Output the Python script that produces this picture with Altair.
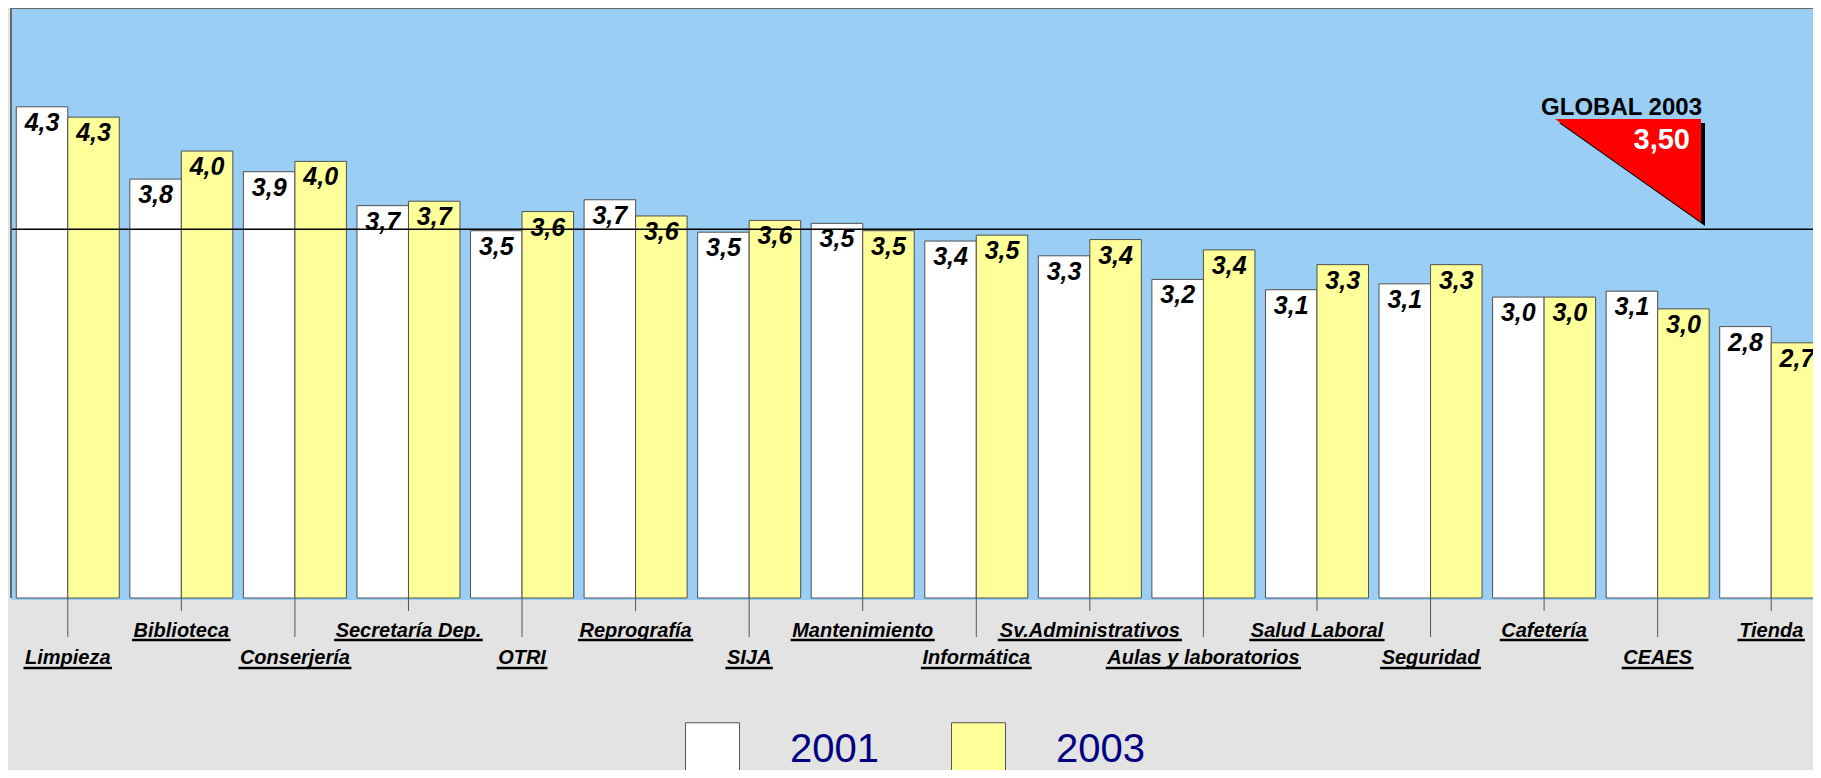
import altair as alt
import pandas as pd

# ---------------- data ----------------
cats = ["Limpieza", "Biblioteca", "Conserjería", "Secretaría Dep.", "OTRI",
        "Reprografía", "SIJA", "Mantenimiento", "Informática", "Sv.Administrativos",
        "Aulas y laboratorios", "Salud Laboral", "Seguridad", "Cafetería", "CEAES", "Tienda"]
v2001 = [4.33, 3.84, 3.89, 3.66, 3.49, 3.70, 3.48, 3.54, 3.42, 3.32, 3.16, 3.09, 3.13, 3.04, 3.08, 2.84]
v2003 = [4.26, 4.03, 3.96, 3.69, 3.62, 3.59, 3.56, 3.49, 3.46, 3.43, 3.36, 3.26, 3.26, 3.04, 2.96, 2.73]
years = ["2001", "2003"]
global_2003 = 3.50
global_title = "GLOBAL 2003"

# ---------------- style ----------------
FONT = "Liberation Sans"
BLUE = "#9ACEF4"
GREY = "#E3E3E3"
YELLOW = "#FFFF99"
PLOT_W, PLOT_H = 1802, 592
LABEL_SIZE = 20

# Arial/Liberation Sans Bold advance widths (1/1000 em) used to size underlines
BOLD_W = {" ": 278, ".": 278, "A": 722, "B": 722, "C": 722, "D": 722, "E": 667, "I": 278,
          "J": 556, "L": 611, "M": 833, "O": 778, "R": 722, "S": 667, "T": 611,
          "a": 556, "b": 611, "c": 556, "d": 611, "e": 556, "f": 333, "g": 611, "i": 278,
          "j": 278, "l": 278, "m": 889, "n": 611, "o": 611, "p": 611, "r": 389, "s": 556,
          "t": 333, "u": 611, "v": 556, "y": 556, "z": 500, "á": 556, "í": 278}


def text_width(s):
    return sum(BOLD_W.get(ch, 556) for ch in s) * LABEL_SIZE / 1000.0 + 3


bars_df = pd.DataFrame({
    "cat": cats * 2,
    "year": [years[0]] * len(cats) + [years[1]] * len(cats),
    "value": v2001 + v2003,
})
cat_df = pd.DataFrame({
    "cat": cats,
    "row": [i % 2 for i in range(len(cats))],
    "ulw": [text_width(c) for c in cats],
})
glob_df = pd.DataFrame({"g": [global_2003], "title": [global_title]})

xscale = alt.Scale(domain=cats, range=[0, 1817], paddingInner=0.093, paddingOuter=0.0465)
yscale = alt.Scale(domain=[1, 5], range=[590, 0], nice=False, zero=False)
X = alt.X("cat:N", scale=xscale, axis=None)
XO = alt.XOffset("year:N", scale=alt.Scale(domain=years, paddingInner=0, paddingOuter=0))
Y = alt.Y("value:Q", scale=yscale, axis=None)

bars = alt.Chart(bars_df).mark_bar(stroke="#505050", strokeWidth=1, clip=True).encode(
    x=X, xOffset=XO, y=Y, y2=alt.datum(1),
    fill=alt.Fill("year:N", scale=alt.Scale(domain=years, range=["#FFFFFF", YELLOW]),
                  legend=alt.Legend(title=None, orient="none", legendX=674, legendY=714,
                                    direction="horizontal", symbolType="square",
                                    symbolSize=2916, symbolStrokeColor="#555555",
                                    symbolStrokeWidth=1, labelFont=FONT, labelFontSize=40,
                                    labelColor="#000080", labelOffset=50, columnPadding=70,
                                    padding=0)),
)

global_rule = alt.Chart(glob_df).mark_rule(color="black", strokeWidth=1.3).encode(
    y=alt.Y("g:Q", scale=yscale, axis=None))

value_labels = alt.Chart(bars_df).transform_calculate(
    lbl="replace(format(datum.value, '.1f'), '.', ',')"
).mark_text(font=FONT, fontSize=25, fontWeight="bold", fontStyle="italic", dy=24,
            baseline="alphabetic", align="center", color="black", clip=True).encode(
    x=X, xOffset=XO, y=Y, text="lbl:N")

# plot frame (top and left edges)
frame_top = alt.Chart(glob_df).mark_rule(color="#666666", strokeWidth=2).encode(
    x=alt.value(0), x2=alt.value(PLOT_W), y=alt.value(0))
frame_left = alt.Chart(glob_df).mark_rule(color="#666666", strokeWidth=2).encode(
    x=alt.value(0), y=alt.value(0), y2=alt.value(590))

# GLOBAL 2003 triangle marker
tri_path = "M -2 -1.41 L 0 -1.41 L 0 0 Z"
tri_shadow = alt.Chart(glob_df).mark_point(shape=tri_path, size=21316, filled=True,
                                            color="black", opacity=1, strokeWidth=0).encode(
    x=alt.value(1694), y=alt.value(218))
tri = alt.Chart(glob_df).mark_point(shape=tri_path, size=21316, filled=True,
                                     color="#FF0000", opacity=1, strokeWidth=0).encode(
    x=alt.value(1690), y=alt.value(214))
glob_title = alt.Chart(glob_df).mark_text(font=FONT, fontSize=24, fontWeight="bold",
                                          align="right", baseline="alphabetic",
                                          color="black").encode(
    x=alt.value(1691), y=alt.value(107), text="title:N")
glob_value = alt.Chart(glob_df).transform_calculate(
    lbl="replace(format(datum.g, '.2f'), '.', ',')"
).mark_text(font=FONT, fontSize=29, fontWeight="bold", align="right",
            baseline="alphabetic", color="white").encode(
    x=alt.value(1679), y=alt.value(141), text="lbl:N")

# category labels in two staggered rows, with ticks and underlines
layers = []
for row, tick_end, text_y, ul_y in [(1, 603, 629, 632), (0, 629, 656, 660)]:
    c = alt.Chart(cat_df).transform_filter(alt.datum.row == row)
    layers.append(c.mark_rule(color="#555555", strokeWidth=1).encode(
        x=X, y=alt.value(590), y2=alt.value(tick_end)))
    layers.append(c.mark_text(font=FONT, fontSize=LABEL_SIZE, fontWeight="bold",
                              fontStyle="italic", align="center", baseline="alphabetic",
                              color="black").encode(x=X, y=alt.value(text_y), text="cat:N"))
    layers.append(c.mark_tick(orient="horizontal", thickness=2.5, color="black",
                              opacity=1).encode(
        x=X, y=alt.value(ul_y), size=alt.Size("ulw:Q", scale=None, legend=None)))

chart = alt.layer(
    bars, global_rule, value_labels, frame_top, frame_left,
    tri_shadow, tri, glob_title, glob_value, *layers
).properties(
    width=PLOT_W, height=PLOT_H, background=GREY,
    padding={"left": 3, "top": 0, "right": 0, "bottom": 170},
    autosize=alt.AutoSizeParams(type="none"),
).configure_view(fill=BLUE, stroke=None)

chart.save("out.html", embed_options={"renderer": "svg", "actions": False})
